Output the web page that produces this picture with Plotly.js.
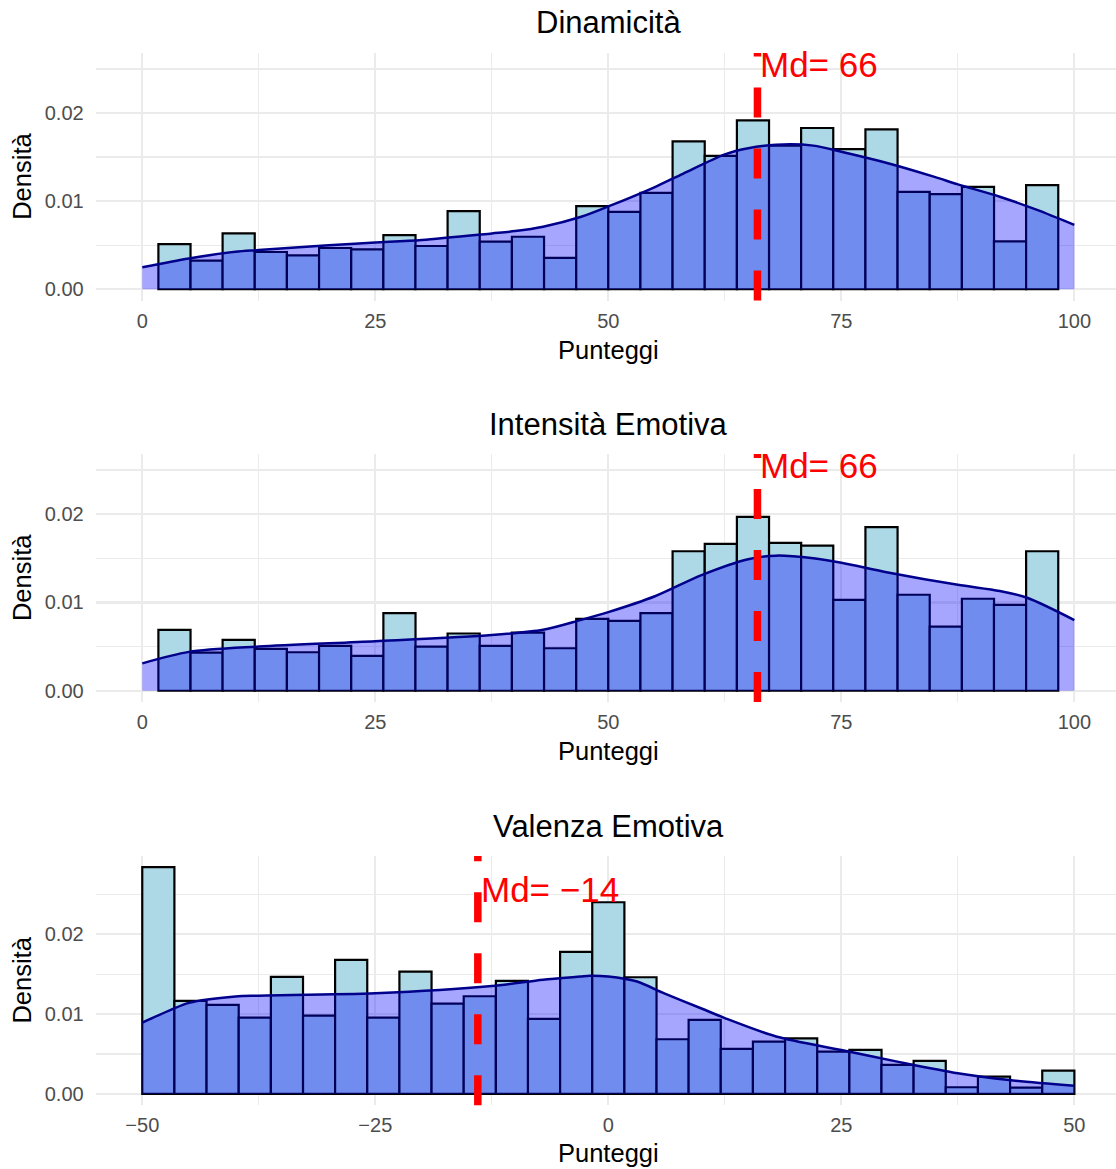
<!DOCTYPE html>
<html>
<head>
<meta charset="utf-8">
<script src="https://cdn.plot.ly/plotly-3.0.1.min.js"></script>
<style>html,body{margin:0;padding:0;background:#fff;}#chart{width:1116px;height:1169px;}</style>
</head>
<body>
<div id="chart"></div>
<script>
// ---------- DATA ----------
const panelTitles = ["Dinamicità", "Intensità Emotiva", "Valenza Emotiva"];
const xAxisLabel = "Punteggi";
const yAxisLabel = "Densità";

// histogram bin width (ggplot bins = 30 over a 0–100 span)
const binWidth = 100 / 29;

// Dinamicità (scale 0–100): bin centres and densities
const dinBinCenters = [3.45, 6.90, 10.34, 13.79, 17.24, 20.69, 24.14, 27.59, 31.03, 34.48, 37.93, 41.38, 44.83, 48.28,
  51.72, 55.17, 58.62, 62.07, 65.52, 68.97, 72.41, 75.86, 79.31, 82.76, 86.21, 89.66, 93.10, 96.55];
const dinHist = [0.00513, 0.00325, 0.00634, 0.00423, 0.00385, 0.00468, 0.00453, 0.00615, 0.00491, 0.00887, 0.00540, 0.00596, 0.00355, 0.00943,
  0.00879, 0.01094, 0.01679, 0.01513, 0.01917, 0.01630, 0.01830, 0.01590, 0.01815, 0.01106, 0.01079, 0.01162, 0.00543, 0.01181];
const dinDensX = [0, 5, 10, 12.5, 20, 25, 30, 37.5, 40, 43, 47, 50, 55, 58, 62.5, 65, 68, 72, 75, 80, 85, 87.5, 92, 96, 100];
const dinDensY = [0.0025, 0.0035, 0.00426, 0.00445, 0.0050, 0.0053, 0.0056, 0.00634, 0.0066, 0.0071, 0.0082, 0.0094, 0.0116, 0.0131,
  0.0153, 0.0160, 0.0164, 0.0163, 0.0156, 0.0143, 0.01275, 0.0119, 0.0105, 0.0090, 0.0073];
const dinMedian = 66;

// Intensità Emotiva (scale 0–100)
const intBinCenters = dinBinCenters;
const intHist = [0.00689, 0.00432, 0.00576, 0.00473, 0.00436, 0.00508, 0.00394, 0.00879, 0.00500, 0.00648, 0.00508, 0.00659, 0.00481, 0.00814,
  0.00792, 0.00879, 0.01580, 0.01663, 0.01970, 0.01674, 0.01644, 0.01030, 0.01852, 0.01087, 0.00727, 0.01042, 0.00973, 0.01580];
const intDensX = [0, 5, 12.5, 25, 37.5, 43, 47, 50, 55, 60, 65, 68, 72, 75, 80, 87.5, 92, 95, 100];
const intDensY = [0.0031, 0.0044, 0.0050, 0.0056, 0.0063, 0.0069, 0.0080, 0.0089, 0.0107, 0.0131, 0.0149, 0.0153, 0.0150, 0.0145,
  0.0134, 0.0120, 0.0113, 0.0105, 0.0080];
const intMedian = 66;

// Valenza Emotiva (scale −50–50)
const valBinCenters = [-48.28, -44.83, -41.38, -37.93, -34.48, -31.03, -27.59, -24.14, -20.69, -17.24, -13.79, -10.34, -6.90, -3.45,
  0.00, 3.45, 6.90, 10.34, 13.79, 17.24, 20.69, 24.14, 27.59, 31.03, 34.48, 37.93, 41.38, 44.83, 48.28];
const valHist = [0.02839, 0.01165, 0.01115, 0.00956, 0.01466, 0.00981, 0.01678, 0.00956, 0.01532, 0.01132, 0.01223, 0.01415, 0.00939, 0.01779,
  0.02400, 0.01461, 0.00685, 0.00927, 0.00564, 0.00656, 0.00697, 0.00530, 0.00551, 0.00363, 0.00413, 0.00084, 0.00217, 0.00079, 0.00292];
const valDensX = [-50, -47, -45, -40, -37.5, -25, -12.5, -7, -3, -2, 0, 3, 6, 10, 12.5, 18, 25, 31, 37.5, 43, 50];
const valDensY = [0.00894, 0.0105, 0.0114, 0.0122, 0.0123, 0.0126, 0.0135, 0.0143, 0.0147, 0.0148, 0.0147, 0.0141, 0.0126, 0.0107,
  0.0095, 0.0072, 0.0055, 0.00405, 0.0026, 0.00175, 0.00104];
const valMedian = -14;

// median labels and their height
const medianLabels = ["Md= 66", "Md= 66", "Md= \u221214"];
const labelY = [0.02552, 0.02552, 0.02555];

// axis ticks
const xTicks100 = [0, 25, 50, 75, 100];
const xTickText100 = ["0", "25", "50", "75", "100"];
const xTicks50 = [-50, -25, 0, 25, 50];
const xTickText50 = ["\u221250", "\u221225", "0", "25", "50"];
const yTicks = [0, 0.01, 0.02];
const yTickText = ["0.00", "0.01", "0.02"];

// ---------- STYLE / LAYOUT ----------
const FONT = "Liberation Sans, Arial, Helvetica, sans-serif";
const W = 1116, H = 1169;
const plotLeft = 95.7;
const xDomain = [plotLeft / W, 1];
const panelPx = [[53.1, 300.5], [454.1, 702.0], [855.9, 1105.3]];
const yDomains = panelPx.map(p => [1 - p[1] / H, 1 - p[0] / H]);
const xRanges = [[-5, 104.47], [-5, 104.47], [-55, 54.47]];
const yRanges = [[-0.001276, 0.0268], [-0.001276, 0.0268], [-0.00142, 0.0298]];
const titleY = [22, 424, 826];
const xTitleY = [350, 751, 1153];

const panels = [
  {centers: dinBinCenters, hist: dinHist, dx: dinDensX, dy: dinDensY, med: dinMedian, ticks: xTicks100, tt: xTickText100, tick0: 0},
  {centers: intBinCenters, hist: intHist, dx: intDensX, dy: intDensY, med: intMedian, ticks: xTicks100, tt: xTickText100, tick0: 0},
  {centers: valBinCenters, hist: valHist, dx: valDensX, dy: valDensY, med: valMedian, ticks: xTicks50, tt: xTickText50, tick0: -50}
];

const traces = [];
const shapes = [];
const annotations = [];
const layout = {
  width: W, height: H,
  margin: {l: 0, r: 0, t: 0, b: 0},
  paper_bgcolor: "#ffffff",
  plot_bgcolor: "#ffffff",
  showlegend: false,
  font: {family: FONT, color: "#000000"},
  shapes: shapes,
  annotations: annotations
};

const GRID = "#EBEBEB";
panels.forEach((p, i) => {
  const n = i === 0 ? "" : String(i + 1);
  const xa = "x" + n, ya = "y" + n;
  traces.push({
    type: "bar", x: p.centers, y: p.hist, width: binWidth,
    xaxis: xa, yaxis: ya,
    marker: {color: "#ADD8E6", line: {color: "#000000", width: 2.2}},
    hoverinfo: "x+y"
  });
  traces.push({
    type: "scatter", mode: "lines", x: p.dx, y: p.dy,
    xaxis: xa, yaxis: ya,
    fill: "tozeroy", fillcolor: "rgba(0,0,255,0.35)",
    line: {color: "#00008B", width: 2.5, shape: "spline", smoothing: 0.8}
  });
  layout["xaxis" + n] = {
    domain: xDomain, anchor: ya, range: xRanges[i], fixedrange: true,
    tickmode: "array", tickvals: p.ticks, ticktext: p.tt,
    ticks: "", showline: false, zeroline: false,
    showgrid: true, gridcolor: GRID, gridwidth: 2.2,
    minor: {tick0: p.tick0, dtick: 12.5, showgrid: true, gridcolor: GRID, gridwidth: 1.2, ticks: ""},
    tickfont: {family: FONT, size: 20, color: "#4D4D4D"},
    ticklabelstandoff: 6,
    automargin: false
  };
  layout["yaxis" + n] = {
    domain: yDomains[i], anchor: xa, range: yRanges[i], fixedrange: true,
    tickmode: "array", tickvals: yTicks, ticktext: yTickText,
    ticks: "", showline: false, zeroline: false,
    showgrid: true, gridcolor: GRID, gridwidth: 2.2,
    minor: {tick0: 0, dtick: 0.005, showgrid: true, gridcolor: GRID, gridwidth: 1.2, ticks: ""},
    tickfont: {family: FONT, size: 20, color: "#4D4D4D"},
    ticklabelstandoff: 11,
    automargin: false
  };
  shapes.push({
    type: "line", xref: xa, yref: ya + " domain",
    x0: p.med, x1: p.med, y0: 0, y1: 1,
    line: {color: "#FF0000", width: 7.5, dash: "30px,31px"}
  });
  annotations.push({
    xref: xa, yref: ya, x: p.med, y: labelY[i],
    text: medianLabels[i], showarrow: false,
    xanchor: "left", yanchor: "middle", xshift: 1,
    font: {family: FONT, size: 35, color: "#FF0000"}
  });
  annotations.push({
    xref: "paper", yref: "paper", x: 608.3 / W, y: 1 - titleY[i] / H,
    text: panelTitles[i], showarrow: false, xanchor: "center", yanchor: "middle",
    font: {family: FONT, size: 31, color: "#000000"}
  });
  annotations.push({
    xref: "paper", yref: "paper", x: 608.3 / W, y: 1 - xTitleY[i] / H,
    text: xAxisLabel, showarrow: false, xanchor: "center", yanchor: "middle",
    font: {family: FONT, size: 25.5, color: "#000000"}
  });
  annotations.push({
    xref: "paper", yref: "paper", x: 22 / W, y: 1 - (panelPx[i][0] + panelPx[i][1]) / 2 / H,
    text: yAxisLabel, showarrow: false, xanchor: "center", yanchor: "middle", textangle: -90,
    font: {family: FONT, size: 25.5, color: "#000000"}
  });
});

Plotly.newPlot("chart", traces, layout, {displayModeBar: false, staticPlot: true});
</script>
</body>
</html>
